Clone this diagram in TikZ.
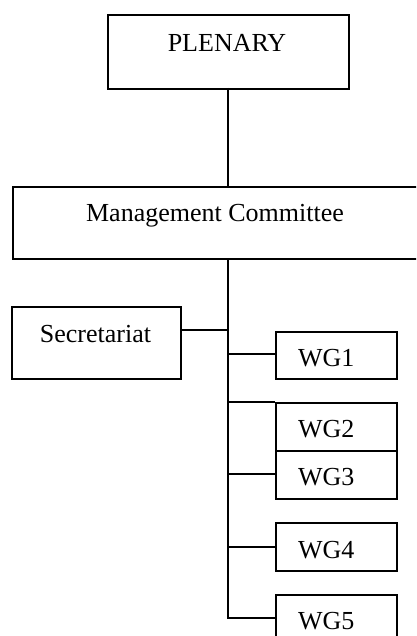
\documentclass[tikz,border=0pt]{standalone}
\usepackage{fontspec}
\setmainfont{Liberation Serif}
\begin{document}
\begin{tikzpicture}[x=1pt,y=-1pt,line width=2pt,
  box/.style={draw=black,rectangle,inner sep=0pt,anchor=north west},
  txt/.style={inner sep=0pt,font=\fontsize{26}{30}\selectfont,anchor=base},
  wgt/.style={inner sep=0pt,font=\fontsize{26}{30}\selectfont,anchor=base west}]
\useasboundingbox (0,0) rectangle (416,636);
\clip (0,0) rectangle (416,636);
% boxes
\node[box,minimum width=241pt,minimum height=74pt] (plen) at (107,14) {};
\node[box,minimum width=430pt,minimum height=72pt] (mc) at (12,186) {};
\node[box,minimum width=169pt,minimum height=72pt] (sec) at (11,306) {};
\node[box,minimum width=121pt,minimum height=47pt] (wg1) at (275,331) {};
\node[box,minimum width=121pt,minimum height=48pt] (wg2) at (275,402) {};
\node[box,minimum width=121pt,minimum height=48pt] (wg3) at (275,450) {};
\node[box,minimum width=121pt,minimum height=48pt] (wg4) at (275,522) {};
\node[box,minimum width=121pt,minimum height=60pt] (wg5) at (275,594) {};
% texts
\node[txt] (plent) at (227,52) {PLENARY};
\node[txt] (mct) at (215,222) {Management Committee};
\node[txt] (sect) at (95.5,342) {Secretariat};
\node[wgt] (wg1t) at (297,366) {WG1};
\node[wgt] (wg2t) at (297,437) {WG2};
\node[wgt] (wg3t) at (297,485) {WG3};
\node[wgt] (wg4t) at (297,558) {WG4};
\node[wgt] (wg5t) at (297,629) {WG5};
% junctions on trunk
\coordinate (top) at (228,88);
\coordinate (mtop) at (228,186);
\coordinate (mbot) at (228,258);
\coordinate (js) at (228,330);
\coordinate (j1) at (228,354);
\coordinate (j2) at (228,402);
\coordinate (j3) at (228,474);
\coordinate (j4) at (228,547);
\coordinate (j5) at (228,618);
% connectors
\draw (top) -- (mtop);
\draw (mbot) -- (j5) -- (wg5.west |- j5);
\draw (sec.east |- js) -- (js);
\draw (j1) -- (wg1.west |- j1);
\draw (j2) -- (wg2.west |- j2);
\draw (j3) -- (wg3.west |- j3);
\draw (j4) -- (wg4.west |- j4);
\end{tikzpicture}
\end{document}
